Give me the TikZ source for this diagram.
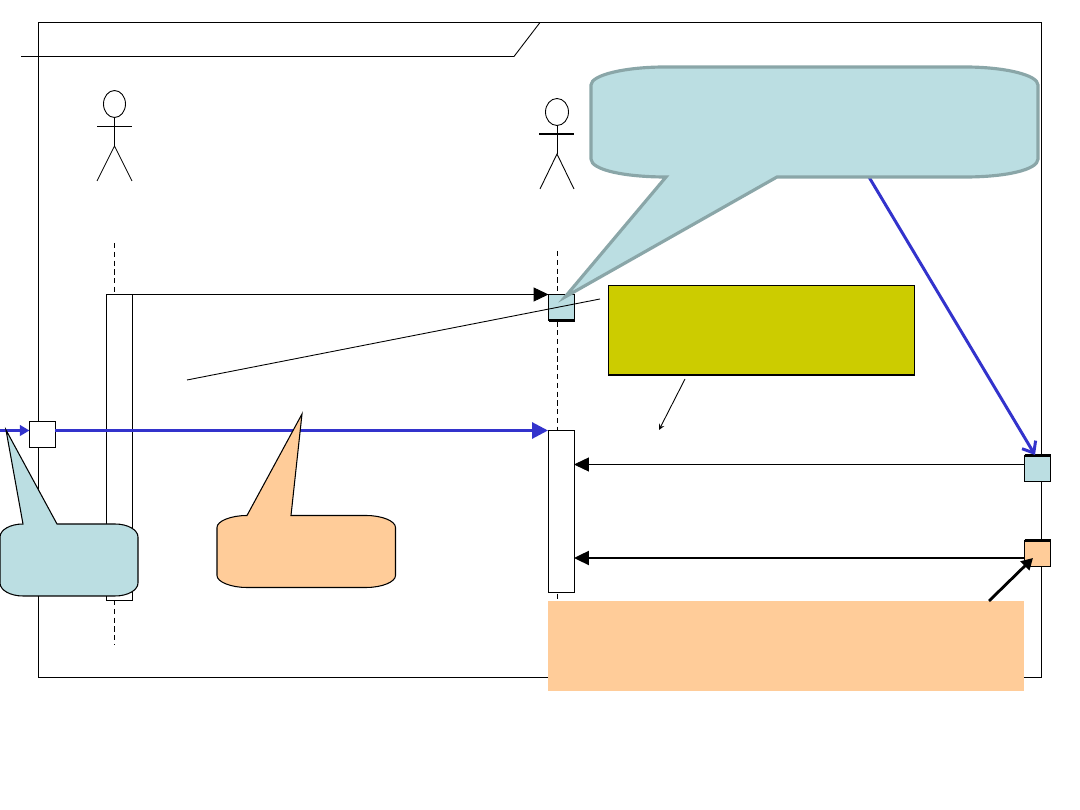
\documentclass[tikz,border=0pt]{standalone}
\usetikzlibrary{arrows.meta,shapes.geometric}
\definecolor{pale}{HTML}{BBDEE2}
\definecolor{peach}{HTML}{FFCC99}
\definecolor{olive}{HTML}{CCCC00}
\definecolor{msgblue}{HTML}{3333CC}
\definecolor{edge}{HTML}{8AA6A8}
\tikzset{
  thinline/.style={line width=.5pt},
  lifeline/.style={line width=.5pt,dash pattern=on 3pt off 2pt},
  msg/.style={line width=.5pt,-{Triangle[length=8.5pt,width=8pt]}},
  bluemsg/.style={msgblue,line width=1.7pt},
  box/.style={draw,line width=.6pt,inner sep=0pt,outer sep=0pt,minimum width=.52cm,minimum height=.52cm},
  actbar/.style={draw,fill=white,line width=.5pt,inner sep=0pt,outer sep=0pt,minimum width=.52cm},
}
\begin{document}
\begin{tikzpicture}[x=.02cm,y=-.02cm]
\useasboundingbox (0,0) rectangle (1080,810);
% frame and its tab
\coordinate(F1) at (38.5,22.5) ;
\coordinate(F2) at (1041.5,677.5) ;
\coordinate(Tab1) at (21,56.5) ;
\coordinate(Tab2) at (514,56.5) ;
\coordinate(Tab3) at (540,22.5) ;
\draw[thinline](F1) rectangle (F2);
\draw[thinline](Tab1)--(Tab2)--(Tab3);
% first actor
\node[draw,thinline,ellipse,minimum width=.44cm,minimum height=.54cm,inner sep=0pt,outer sep=0pt] (HeadA) at (114.5,104) {};
\coordinate(HipA) at (114.5,146) ;
\draw[thinline](HeadA.south)--(HipA);
\draw[thinline](97,126.5)--(132,126.5);
\draw[thinline](97,181)--(HipA)--(132,181);
% second actor
\node[draw,thinline,ellipse,minimum width=.46cm,minimum height=.54cm,inner sep=0pt,outer sep=0pt] (HeadB) at (557,112) {};
\coordinate(HipB) at (557,154) ;
\draw[thinline](HeadB.south)--(HipB);
\draw[line width=1pt](539,134)--(574,134);
\draw[thinline](540,189)--(HipB)--(574,189);
% lifelines
\draw[lifeline](114.5,243)--(114.5,294);
\draw[lifeline](114.5,600)--(114.5,645);
\draw[lifeline](557.5,251)--(557.5,610);
% bars and boxes
\node[actbar,minimum height=6.12cm] (BarA) at (119.5,447.5) {};
\node[actbar,minimum height=3.24cm] (BarB) at (561,511) {};
\node[box,fill=pale] (BoxB) at (561.5,307.5) {};
\node[box,fill=pale] (BoxC) at (1037.5,468.5) {};
\node[box,fill=peach] (BoxD) at (1037.5,553.5) {};
\draw[line width=1.2pt](BoxB.south west)--(BoxB.south east);
\draw[line width=1.2pt](BoxC.north west)--(BoxC.north east);
\draw[line width=1.2pt](BoxD.north west)--(BoxD.north east);
% messages
\coordinate(In) at (0,430.5) ;
\node[box,fill=white] (BoxA) at (42.5,434.5) {};
\draw[msg](BarA.north east)--(BoxB.north west);
\draw[bluemsg,-{Triangle[length=5.5pt,width=6pt]}](In)--(BoxA.west |- In);
\draw[bluemsg,-{Triangle[length=9pt,width=9pt]}](BoxA.east |- In)--(BarB.north west |- In);
\draw[msg](BoxC.west)++(0,-4)--(BarB.east |- 0,464.5);
\draw[line width=1.1pt,-{Triangle[length=8.5pt,width=8pt]}](BoxD.west)++(0,4.5)--(BarB.east |- 0,558);
% notes
\node[fill=olive,draw,thinline,minimum width=6.12cm,minimum height=1.79cm,inner sep=0pt,outer sep=0pt] (NoteY) at (761.5,330.25) {};
\draw[line width=1.2pt](NoteY.south west)--(NoteY.south east);
\coordinate(Y1) at (685,379) ;
\coordinate(Y2) at (659,430) ;
\draw[-stealth,thinline](Y1)--(Y2);
\node[fill=peach,minimum width=9.52cm,minimum height=1.81cm,inner sep=0pt,outer sep=0pt] (NoteP) at (786,645.75) {};
\coordinate(P1) at (989,601) ;
\coordinate(P2) at (1033,558) ;
\draw[line width=1.6pt,-{Triangle[length=6.5pt,width=7pt]}](P1)--(P2);
% blue line behind the big callout
\coordinate(B1) at (860,162) ;
\coordinate(B2) at (1035,455) ;
\draw[bluemsg,-{Straight Barb[length=5.5pt,width=9pt]}](B1)--(B2);
% callouts
\draw[fill=pale,line width=.6pt](6,430)--(57,524)--(115,524) .. controls (128,524) and (138,530) .. (138,537)--(138,583) .. controls (138,590) and (128,596) .. (115,596)--(23,596) .. controls (10,596) and (0,590) .. (0,583)--(0,537) .. controls (0,530) and (10,524) .. (23,524)--cycle;
\draw[fill=peach,line width=.6pt](302,414)--(291,515.5)--(366,515.5) .. controls (382,515.5) and (395.5,521) .. (395.5,527.5)--(395.5,575.5) .. controls (395.5,582) and (382,587.5) .. (366,587.5)--(247,587.5) .. controls (231,587.5) and (217,582) .. (217,575.5)--(217,527.5) .. controls (217,521) and (231,515.5) .. (247,515.5)--cycle;
\draw[fill=pale,draw=edge,line width=1.8pt,line join=miter](565,297)--(777,177)--(965,177) .. controls (1005,177) and (1038,170) .. (1038,159)--(1038,85) .. controls (1038,75) and (1005,67) .. (965,67)--(665,67) .. controls (625,67) and (591,75) .. (591,85)--(591,159) .. controls (591,170) and (625,177) .. (666,177)--cycle;
% long thin line
\coordinate(L1) at (187,380) ;
\coordinate(L2) at (600,299) ;
\draw[thinline](L1)--(L2);
\end{tikzpicture}
\end{document}
